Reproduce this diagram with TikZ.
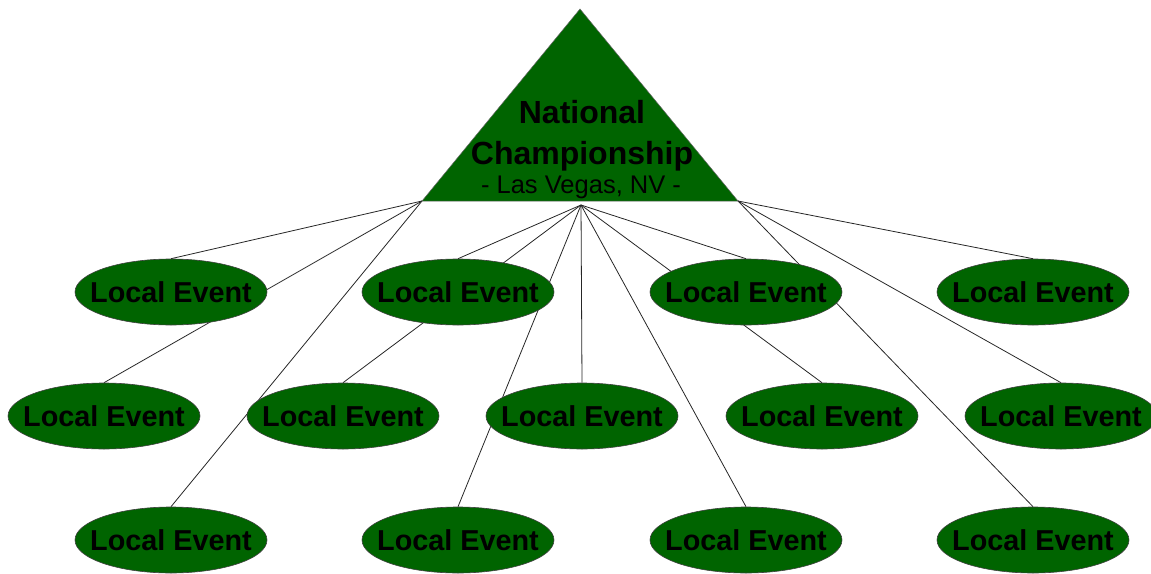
\documentclass[tikz,border=0pt]{standalone}
\usepackage{fontspec}
\setmainfont{Liberation Sans}
\usetikzlibrary{shapes.geometric,backgrounds}
\definecolor{champgreen}{RGB}{0,100,0}

\begin{document}
\begin{tikzpicture}[x=1pt,y=-1pt,semithick]
  \tikzstyle{event}=[ellipse,draw=black!75,fill=champgreen,line width=0.6pt,minimum width=192pt,minimum height=66pt,inner xsep=-14pt,inner ysep=0pt,font=\fontsize{28.8}{30}\selectfont\bfseries]
  \tikzstyle{link}=[draw=black!85,line width=0.8pt]
  \tikzstyle{title}=[anchor=base,inner sep=0pt]
  \useasboundingbox (0,0) rectangle (1151,573);

  % pyramid
  \coordinate (L) at (422,201);
  \coordinate (R) at (738,201);
  \coordinate (T) at (580,9);
  \coordinate (C) at (581,205);
  \fill [champgreen,draw=black!60,line width=0.5pt] (L) -- (T) -- (R) -- cycle;
  \node [title,font=\fontsize{32}{34}\selectfont\bfseries] (N1) at (582,123) {National};
  \node [title,font=\fontsize{32}{34}\selectfont\bfseries] (N2) at (582,164) {Championship};
  \node [title,font=\fontsize{25.5}{27}\selectfont] (N3) at (581,193) {- Las Vegas, NV -};

  % local events
  \node [event] (a1) at (171,292) {Local Event};
  \node [event] (a2) at (458,292) {Local Event};
  \node [event] (a3) at (746,292) {Local Event};
  \node [event] (a4) at (1033,292) {Local Event};

  \node [event] (b1) at (104,416) {Local Event};
  \node [event] (b2) at (343,416) {Local Event};
  \node [event] (b3) at (582,416) {Local Event};
  \node [event] (b4) at (822,416) {Local Event};
  \node [event] (b5) at (1061,416) {Local Event};

  \node [event] (c1) at (171,540) {Local Event};
  \node [event] (c2) at (458,540) {Local Event};
  \node [event] (c3) at (746,540) {Local Event};
  \node [event] (c4) at (1033,540) {Local Event};

  \begin{pgfonlayer}{background}
    \path [link] (L) edge (a1.north)
                     edge (b1.north)
                     edge (c1.north)
                 (C) edge (a2.north)
                     edge (b2.north)
                     edge (c2.north)
                     edge (b3.north)
                     edge (c3.north)
                     edge (b4.north)
                     edge (a3.north)
                 (R) edge (a4.north)
                     edge (b5.north)
                     edge (c4.north);
  \end{pgfonlayer}
\end{tikzpicture}
\end{document}
